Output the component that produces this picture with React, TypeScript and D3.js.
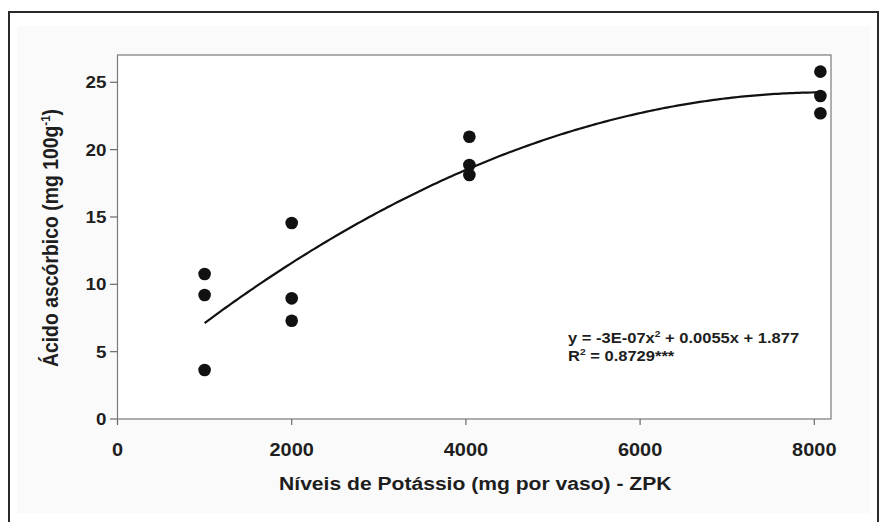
import React from "react";
import * as d3 from "d3";

// ---- data ----
const potassiumLevels = [1000, 1000, 1000, 2000, 2000, 2000, 4040, 4040, 4040, 8070, 8070, 8070];
const ascorbicAcid = [10.77, 9.21, 3.64, 14.55, 8.96, 7.3, 20.96, 18.86, 18.12, 25.79, 23.98, 22.7];
const xTicks = [0, 2000, 4000, 6000, 8000];
const yTicks = [0, 5, 10, 15, 20, 25];
// quadratic regression curve (a, b, c) as drawn in the picture
const fitCoefficients = [-3.36e-7, 0.00547, 1.99];
const fitRange = [1000, 8070];
const equationLine = "y = -3E-07x";
const equationRest = " + 0.0055x + 1.877";
const r2Text = " = 0.8729***";

const W = 883;
const H = 522;
const M = { left: 117.5, right: 831, top: 55, bottom: 419 };
const FONT = "'Liberation Sans', Arial, sans-serif";
const TXT = "#1e1e1e";
const SX = 1.14; // the reference text is horizontally stretched

export default function App() {
  const x = d3.scaleLinear().domain([0, 8000]).range([M.left, 814.3]);
  const y = d3.scaleLinear().domain([0, 25]).range([M.bottom, 82.3]);

  const [a, b, c] = fitCoefficients;
  const curveXs = d3.range(fitRange[0], fitRange[1] + 1, 35);
  if (curveXs[curveXs.length - 1] !== fitRange[1]) curveXs.push(fitRange[1]);
  const line = d3
    .line<number>()
    .x((d) => x(d))
    .y((d) => y(a * d * d + b * d + c));

  const at = (px: number, py: number) => `translate(${px},${py}) scale(${SX},1)`;

  return (
    <svg
      width={W}
      height={H}
      style={{ position: "absolute", left: 0, top: 0, background: "#ffffff" }}
      fontFamily={FONT}
    >
      <rect x={17} y={26} width={853} height={487} fill="#fafafa" />
      <rect x={9} y={12} width={869} height={530} fill="none" stroke="#2a2a2a" strokeWidth={2} />
      {/* plot area */}
      <rect
        x={M.left}
        y={M.top}
        width={M.right - M.left}
        height={M.bottom - M.top}
        fill="#ffffff"
        stroke="#7a7a7a"
        strokeWidth={1.2}
      />
      {/* y ticks */}
      {yTicks.map((t) => (
        <g key={"y" + t}>
          <line x1={110} x2={M.left} y1={y(t)} y2={y(t)} stroke="#6a6a6a" strokeWidth={1.2} />
          <text
            transform={at(106.5, y(t))}
            dy="0.36em"
            textAnchor="end"
            fontSize={16.5}
            fontWeight="bold"
            fill={TXT}
          >
            {t}
          </text>
        </g>
      ))}
      {/* x ticks */}
      {xTicks.map((t) => (
        <g key={"x" + t}>
          <line x1={x(t)} x2={x(t)} y1={M.bottom} y2={M.bottom + 6} stroke="#6a6a6a" strokeWidth={1.2} />
          <text
            transform={at(x(t), 456)}
            textAnchor="middle"
            fontSize={17.5}
            fontWeight="bold"
            fill={TXT}
          >
            {t}
          </text>
        </g>
      ))}
      {/* axis titles */}
      <text
        transform={at((M.left + M.right) / 2 + 1, 490)}
        textAnchor="middle"
        fontSize={18.5}
        fontWeight="bold"
        fill={TXT}
      >
        Níveis de Potássio (mg por vaso) - ZPK
      </text>
      <text
        transform={`translate(58,238) scale(${SX},1) rotate(-90)`}
        textAnchor="middle"
        fontSize={19.4}
        fontWeight="bold"
        fill={TXT}
      >
        Ácido ascórbico (mg 100g
        <tspan dy={-7} fontSize={11.5}>
          -1
        </tspan>
        <tspan dy={7}>)</tspan>
      </text>
      {/* fit curve */}
      <path d={line(curveXs) || ""} fill="none" stroke="#111" strokeWidth={2.2} />
      {/* points */}
      {potassiumLevels.map((k, i) => (
        <circle key={i} cx={x(k)} cy={y(ascorbicAcid[i])} r={6.3} fill="#111" />
      ))}
      {/* equation */}
      <text transform={at(568, 343)} fontSize={14.5} fontWeight="bold" fill={TXT}>
        {equationLine}
        <tspan dy={-6} fontSize={9}>
          2
        </tspan>
        <tspan dy={6}>{equationRest}</tspan>
      </text>
      <text transform={at(568, 361)} fontSize={14.5} fontWeight="bold" fill={TXT}>
        R
        <tspan dy={-6} fontSize={9}>
          2
        </tspan>
        <tspan dy={6}>{r2Text}</tspan>
      </text>
    </svg>
  );
}
